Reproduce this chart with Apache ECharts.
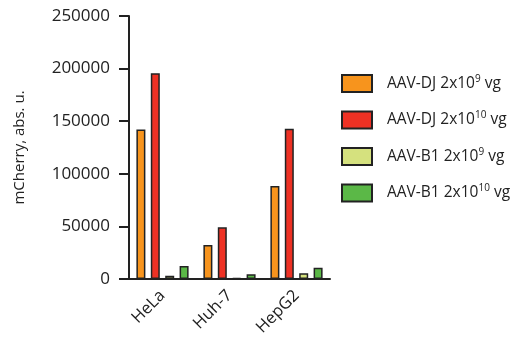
<!DOCTYPE html>
<html><head><meta charset="utf-8">
<script src="https://cdn.jsdelivr.net/npm/echarts@6/dist/echarts.min.js"></script>
<style>html,body{margin:0;padding:0;background:#fff}#c{width:517px;height:348px}</style>
</head><body><div id="c"></div>
<script>
var categories = ['HeLa', 'Huh-7', 'HepG2'];
var seriesNames = ['AAV-DJ 2x10^9 vg', 'AAV-DJ 2x10^10 vg', 'AAV-B1 2x10^9 vg', 'AAV-B1 2x10^10 vg'];
var djLow = [142000, 32300, 88400];
var djHigh = [195500, 49100, 142900];
var b1Low = [3000, 1000, 5400];
var b1High = [12400, 4500, 10700];
var yTicks = [0, 50000, 100000, 150000, 200000, 250000];
var colors = ['#F7941D', '#EE3124', '#D5E17E', '#5BB847'];
var values = [djLow, djHigh, b1Low, b1High];

var font = 'Open Sans';
var chart = echarts.init(document.getElementById('c'));
chart.setOption({
  animation: false,
  grid: {left: 129, right: 187, top: 16, bottom: 69},
  legend: {
    orient: 'vertical', left: 341, top: 74, padding: 0,
    itemWidth: 30, itemHeight: 17, itemGap: 17.5,
    icon: 'rect',
    data: seriesNames,
    formatter: function (n) {
      var m = n.match(/^(.*2x10)\^(\d+)( vg)$/);
      return '{a|' + m[1] + '}{s|' + m[2] + '}{a|' + m[3] + '}';
    },
    textStyle: {
      padding: [0, 0, 0, 10],
      rich: {
        a: {fontFamily: font, fontSize: 15.5, color: '#222'},
        s: {fontFamily: font, fontSize: 10, color: '#222', verticalAlign: 'top', padding: [0, 0, 9, 0]}
      }
    }
  },
  xAxis: {
    type: 'category', data: categories,
    axisLine: {lineStyle: {color: '#222', width: 2}},
    axisTick: {alignWithLabel: true, length: 10, lineStyle: {color: '#222', width: 2}},
    axisLabel: {rotate: 45, fontFamily: font, fontSize: 16.5, color: '#222', margin: 14}
  },
  yAxis: {
    type: 'value', min: 0, max: 250000, interval: 50000,
    name: 'mCherry, abs. u.', nameLocation: 'middle', nameGap: 102,
    nameTextStyle: {fontFamily: font, fontSize: 15, color: '#222'},
    axisLine: {show: true, lineStyle: {color: '#222', width: 2}},
    axisTick: {show: true, length: 10, lineStyle: {color: '#222', width: 2}},
    axisLabel: {fontFamily: font, fontSize: 17, color: '#222', margin: 19,
      formatter: function (v) { return yTicks.indexOf(v) >= 0 ? String(v) : ''; }},
    splitLine: {show: false}
  },
  series: values.map(function (d, i) {
    return {
      name: seriesNames[i], type: 'bar', data: d,
      barWidth: 9, barGap: '60%',
      itemStyle: {color: colors[i], borderColor: '#222', borderWidth: 1.5}
    };
  })
});
</script></body></html>
